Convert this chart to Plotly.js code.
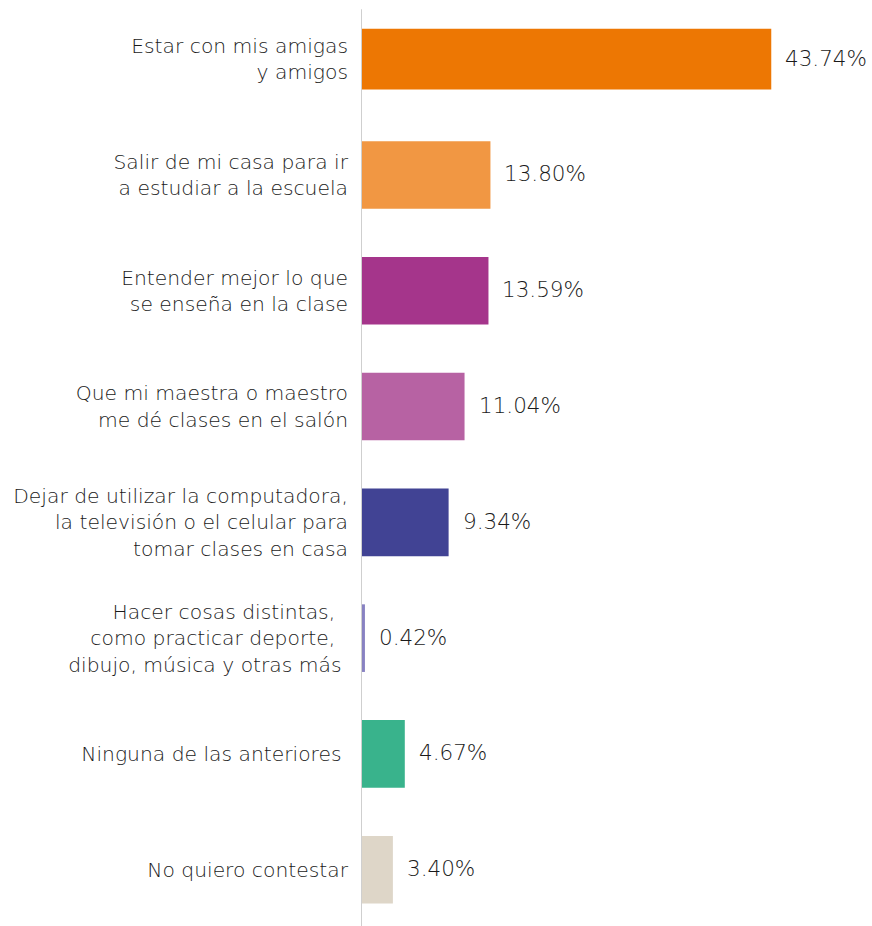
<!DOCTYPE html>
<html>
<head>
<meta charset="utf-8">
<script src="https://cdn.plot.ly/plotly-3.0.1.min.js"></script>
<style>
html,body{margin:0;padding:0;background:#fff;}
#chart{width:872px;height:926px;}
</style>
</head>
<body>
<div id="chart"></div>
<script>
const categories = [
  "Estar con mis amigas<br>y amigos",
  "Salir de mi casa para ir<br>a estudiar a la escuela",
  "Entender mejor lo que<br>se enseña en la clase",
  "Que mi maestra o maestro<br>me dé clases en el salón",
  "Dejar de utilizar la computadora,<br>la televisión o el celular para<br>tomar clases en casa",
  "Hacer cosas distintas,\u00a0\u00a0<br>como practicar deporte,\u00a0\u00a0<br>dibujo, música y otras más\u00a0",
  "Ninguna de las anteriores\u00a0",
  "No quiero contestar"
];
const values = [43.74, 13.80, 13.59, 11.04, 9.34, 0.42, 4.67, 3.40];
const valueLabels = ["43.74%", "13.80%", "13.59%", "11.04%", "9.34%", "0.42%", "4.67%", "3.40%"];
const barColors = ["#ED7703", "#F19743", "#A5358B", "#B762A3", "#414394", "#8882C2", "#39B38C", "#DED6C8"];

const fontFamily = "'DejaVu Sans', 'Open Sans', sans-serif";
const textColor = "#1a1a1a";

const trace = {
  type: "bar",
  orientation: "h",
  x: values,
  y: categories,
  marker: {color: barColors, line: {width: 0}},
  width: [0.525, 0.584, 0.584, 0.584, 0.584, 0.584, 0.584, 0.584],
  hoverinfo: "none"
};

const annotations = values.map((v, i) => ({
  x: v, y: categories[i], xref: "x", yref: "y",
  text: valueLabels[i], showarrow: false,
  xanchor: "left", yanchor: "middle", xshift: 12, yshift: 1,
  font: {family: fontFamily, size: 21.5, color: textColor, weight: 200}
}));

const layout = {
  width: 872, height: 926,
  margin: {l: 361, r: 0, t: 0, b: 0},
  paper_bgcolor: "#fff", plot_bgcolor: "#fff",
  showlegend: false,
  bargap: 0.4,
  xaxis: {range: [0, 54.48], visible: false, showgrid: false, zeroline: false, fixedrange: true},
  yaxis: {
    type: "category",
    range: [7.486, -0.511],
    showgrid: false, zeroline: false, showline: false,
    ticks: "", ticklabelstandoff: 12,
    tickfont: {family: fontFamily, size: 20.3, color: textColor, weight: 200}
  },
  shapes: [{
    type: "line", xref: "x", yref: "paper",
    x0: 0, x1: 0, y0: 0, y1: 0.990,
    line: {color: "#cfcfcf", width: 2}, layer: "above"
  }],
  annotations: annotations
};

Plotly.newPlot("chart", [trace], layout, {displayModeBar: false, staticPlot: true});
</script>
</body>
</html>
